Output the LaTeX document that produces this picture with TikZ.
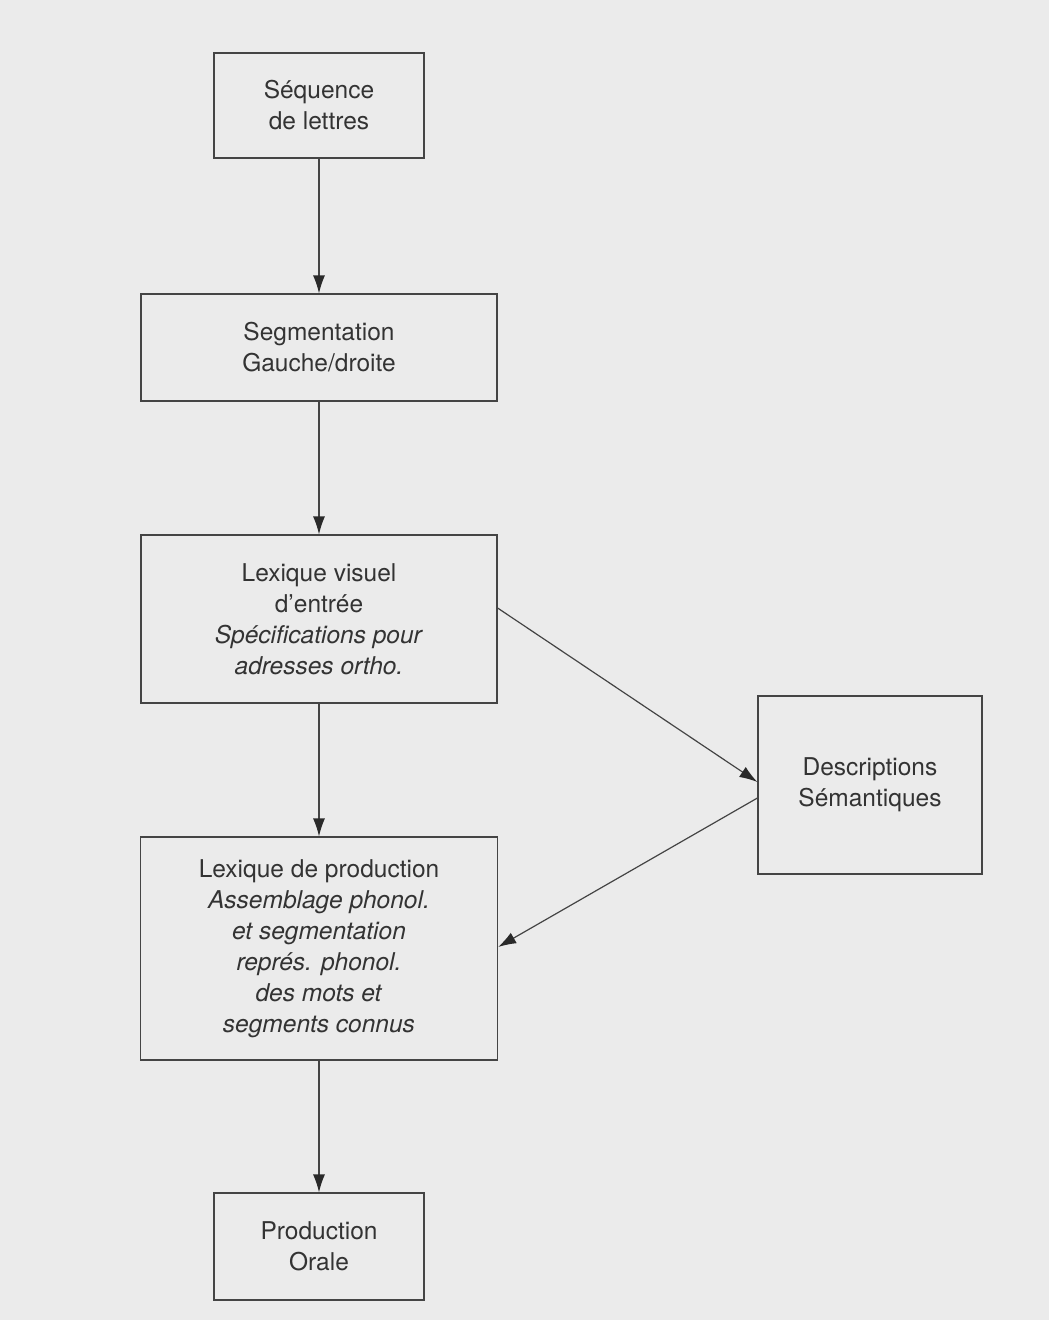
\documentclass[tikz,border=0pt]{standalone}
\usepackage{fontspec}
\setmainfont{TeX Gyre Heros}
\usetikzlibrary{arrows.meta}
\definecolor{inkc}{HTML}{333333}
\definecolor{linec}{HTML}{444444}
\definecolor{headc}{HTML}{2A2A2A}
\definecolor{paper}{HTML}{EBEBEB}
\tikzset{
  box/.style={draw=linec, line width=1.2pt, align=center, text=inkc,
    font=\fontsize{24.5}{31}\selectfont, inner sep=0pt, anchor=center},
  flow/.style={draw=linec, line width=1.2pt, -{Latex[length=18pt,width=12pt,color=headc]}}
}
\begin{document}
\begin{tikzpicture}[x=1pt,y=-1pt]
\fill[paper] (0,0) rectangle (1049,1320);
\useasboundingbox (0,0) rectangle (1049,1320);
\node[box, minimum width=210pt, minimum height=105pt] (b1) at (319,105.5) {Séquence\\de lettres};
\node[box, minimum width=356pt, minimum height=107pt] (b2) at (319,347.5) {Segmentation\\Gauche/droite};
\node[box, minimum width=356pt, minimum height=168pt] (b3) at (319,619) {Lexique visuel\\d’entrée\\\textit{Spécifications pour}\\\textit{adresses ortho.}};
\node[box, minimum width=224pt, minimum height=178pt] (b4) at (870,785) {Descriptions\\Sémantiques};
\node[box, minimum width=357pt, minimum height=223pt] (b5) at (319,948.5) {Lexique de production\\\textit{Assemblage phonol.}\\\textit{et segmentation}\\\textit{représ. phonol.}\\\textit{des mots et}\\\textit{segments connus}};
\node[box, minimum width=210pt, minimum height=107pt] (b6) at (319,1246.5) {Production\\Orale};
\draw[flow] (b1.south) -- (b2.north);
\draw[flow] (b2.south) -- (b3.north);
\draw[flow] (b3.south) -- (b5.north);
\draw[flow] (b5.south) -- (b6.north);
\draw[flow] ([yshift=11pt]b3.east) -- ([yshift=3pt]b4.west);
\draw[flow] ([yshift=-13pt]b4.west) -- ([yshift=1.5pt]b5.east);
\end{tikzpicture}
\end{document}
